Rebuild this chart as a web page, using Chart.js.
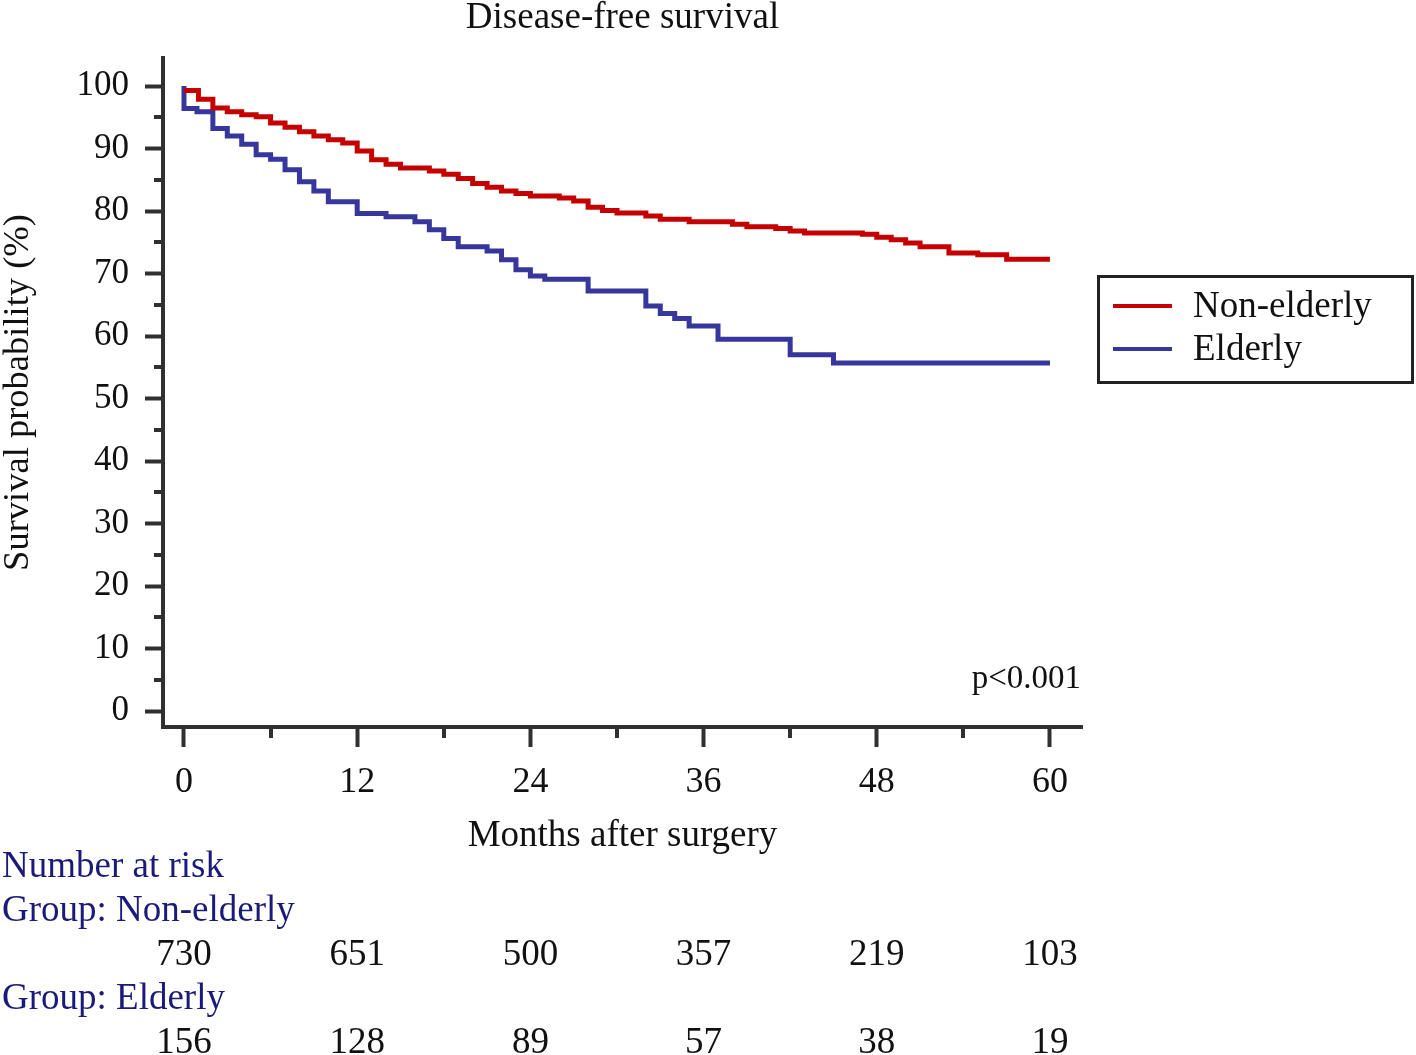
<!DOCTYPE html>
<html>
<head>
<meta charset="utf-8">
<script src="https://cdn.jsdelivr.net/npm/chart.js@4.4.1/dist/chart.umd.min.js"></script>
<style>
  body { margin: 0; background: #fff; }
  canvas { display: block; }
</style>
</head>
<body>
<canvas id="km" width="1416" height="1055"></canvas>
<script>
// Kaplan-Meier curves, values (month of each drop, survival % after it)
const nonElderlyMonths = [0, 1, 2, 3, 4, 5, 6, 7, 8, 9, 10, 11, 12, 13, 14, 15, 17, 18, 19, 20, 21, 22, 23, 24, 26, 27, 28, 29, 30, 32, 33, 35, 38, 39, 41, 42, 43, 47, 48, 49, 50, 51, 53, 55, 57, 60];
const nonElderlySurv   = [99.3, 97.9, 96.5, 95.9, 95.4, 95.1, 94.1, 93.4, 92.7, 92.0, 91.4, 90.9, 89.6, 88.2, 87.5, 86.9, 86.4, 85.9, 85.2, 84.4, 83.8, 83.2, 82.8, 82.4, 82.1, 81.6, 80.6, 80.1, 79.7, 79.2, 78.7, 78.3, 77.9, 77.5, 77.2, 76.8, 76.5, 76.3, 75.8, 75.4, 74.9, 74.3, 73.3, 73.0, 72.3, 72.3];

const elderlyMonths = [0, 0, 0.9, 2, 3, 4, 5, 6, 7, 8, 9, 10, 12, 14, 16, 17, 18, 19, 21, 22, 23, 24, 25, 28, 32, 33, 34, 35, 37, 42, 45, 60];
const elderlySurv   = [100, 96.4, 95.9, 93.2, 92.0, 90.7, 89.0, 88.3, 86.6, 84.7, 83.2, 81.5, 79.6, 79.1, 78.3, 77.0, 75.6, 74.3, 73.6, 72.2, 70.6, 69.6, 69.1, 67.2, 64.8, 63.6, 62.8, 61.6, 59.5, 57.0, 55.7, 55.7];

const groupNames = ['Non-elderly', 'Elderly'];

// ticks
const xTickValues = [0, 12, 24, 36, 48, 60];
const xMinorTicks = [6, 18, 30, 42, 54];
const yTickValues = [0, 10, 20, 30, 40, 50, 60, 70, 80, 90, 100];
const yMinorTicks = [5, 15, 25, 35, 45, 55, 65, 75, 85, 95];

// number at risk table
const riskMonths = [0, 12, 24, 36, 48, 60];
const riskNonElderly = [730, 651, 500, 357, 219, 103];
const riskElderly = [156, 128, 89, 57, 38, 19];

const pValueText = 'p<0.001';

const corRed = '#c40000';
const corAzul = '#36369c';
const corEixo = '#303030';
const corRisco = '#1a1a78';
const fonte = '"Liberation Serif", "Times New Roman", serif';

Chart.defaults.font.family = fonte;
Chart.defaults.color = '#111';

function montarPontos(meses, valores) {
    return meses.map((m, i) => ({ x: m, y: valores[i] }));
}

// desenha ticks menores, p-valor, legenda e tabela de risco
const extrasPlugin = {
    id: 'extras',
    afterDraw(chart) {
        const ctx = chart.ctx;
        const xs = chart.scales.x;
        const ys = chart.scales.y;
        const area = chart.chartArea;

        ctx.save();
        // minor ticks
        ctx.strokeStyle = corEixo;
        ctx.lineWidth = 4;
        yMinorTicks.forEach(v => {
            const py = Math.round(ys.getPixelForValue(v));
            ctx.beginPath();
            ctx.moveTo(area.left - 9, py);
            ctx.lineTo(area.left, py);
            ctx.stroke();
        });
        xMinorTicks.forEach(v => {
            const px = Math.round(xs.getPixelForValue(v));
            ctx.beginPath();
            ctx.moveTo(px, area.bottom);
            ctx.lineTo(px, area.bottom + 11);
            ctx.stroke();
        });

        // p value
        ctx.font = '33px ' + fonte;
        ctx.fillStyle = '#111';
        ctx.textAlign = 'right';
        ctx.textBaseline = 'middle';
        ctx.fillText(pValueText, area.right - 1, 679);

        // legend box
        ctx.lineWidth = 3;
        ctx.strokeStyle = '#222';
        ctx.strokeRect(1098.5, 276.5, 314, 106);
        ctx.textAlign = 'left';
        ctx.font = '37px ' + fonte;
        chart.data.datasets.forEach((ds, i) => {
            const ly = 306 + i * 43;
            ctx.strokeStyle = ds.borderColor;
            ctx.lineWidth = 4;
            ctx.beginPath();
            ctx.moveTo(1113, ly);
            ctx.lineTo(1172, ly);
            ctx.stroke();
            ctx.fillStyle = '#111';
            ctx.fillText(ds.label, 1193, ly + 1);
        });

        // number at risk
        ctx.font = '37px ' + fonte;
        ctx.fillStyle = corRisco;
        ctx.textAlign = 'left';
        ctx.fillText('Number at risk', 2, 867);
        ctx.fillText('Group: ' + groupNames[0], 2, 911);
        ctx.fillText('Group: ' + groupNames[1], 2, 999);
        ctx.fillStyle = '#111';
        ctx.textAlign = 'center';
        riskMonths.forEach((m, i) => {
            const px = xs.getPixelForValue(m);
            ctx.fillText(String(riskNonElderly[i]), px, 955);
            ctx.fillText(String(riskElderly[i]), px, 1043);
        });
        ctx.restore();
    }
};

new Chart(document.getElementById('km'), {
    type: 'line',
    data: {
        datasets: [
            {
                label: groupNames[0],
                data: montarPontos(nonElderlyMonths, nonElderlySurv),
                borderColor: corRed,
                borderWidth: 5,
                stepped: 'before',
                pointRadius: 0,
                fill: false
            },
            {
                label: groupNames[1],
                data: montarPontos(elderlyMonths, elderlySurv),
                borderColor: corAzul,
                borderWidth: 5,
                stepped: 'before',
                pointRadius: 0,
                fill: false
            }
        ]
    },
    options: {
        responsive: false,
        animation: false,
        layout: { padding: { left: 0, right: 334, top: 0, bottom: 200 } },
        plugins: {
            legend: { display: false },
            tooltip: { enabled: false },
            title: {
                display: true,
                text: 'Disease-free survival',
                fullSize: false,
                color: '#111',
                font: { size: 37, weight: 'normal', lineHeight: 1 },
                padding: { top: 0, bottom: 21 }
            }
        },
        scales: {
            x: {
                type: 'linear',
                min: -1.455,
                max: 62.22,
                afterBuildTicks: s => { s.ticks = xTickValues.map(v => ({ value: v })); },
                afterFit: s => { s.height = 128; },
                border: { display: true, width: 4, color: corEixo },
                grid: { drawOnChartArea: false, tickLength: 20, tickWidth: 4, tickColor: corEixo },
                ticks: { font: { size: 36 }, color: '#111', padding: 14, maxRotation: 0 },
                title: {
                    display: true,
                    text: 'Months after surgery',
                    color: '#111',
                    font: { size: 37, lineHeight: 1 },
                    padding: 0
                }
            },
            y: {
                min: -2.56,
                max: 104.48,
                afterBuildTicks: s => { s.ticks = yTickValues.map(v => ({ value: v })); },
                afterFit: s => { s.width = 163; },
                border: { display: true, width: 4, color: corEixo },
                grid: { drawOnChartArea: false, tickLength: 18, tickWidth: 4, tickColor: corEixo },
                ticks: { font: { size: 35 }, color: '#111', padding: 16 },
                title: {
                    display: true,
                    text: 'Survival probability (%)',
                    color: '#111',
                    font: { size: 36.5, lineHeight: 1 },
                    padding: { top: 0, bottom: 0 }
                }
            }
        }
    },
    plugins: [extrasPlugin]
});
</script>
</body>
</html>
